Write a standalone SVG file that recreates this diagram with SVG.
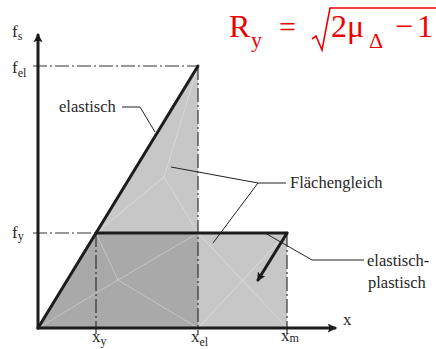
<svg xmlns="http://www.w3.org/2000/svg" width="436" height="349" viewBox="0 0 436 349">
  <style>
    text { font-family: "Liberation Serif", "DejaVu Serif", serif; }
    .lbl { fill: #262626; }
    .t { font-size: 16.5px; }
    .ax { font-size: 17px; }
    .sub { font-size: 12px; }
    .f { fill: #ee0000; }
    .thick { stroke: #1c1c1c; stroke-width: 3; fill: none; stroke-linecap: round; }
    .dd { stroke: #333; stroke-width: 1.2; fill: none; stroke-dasharray: 14 3 2 3; }
    .lead { stroke: #222; stroke-width: 1; fill: none; }
    .facet { stroke: #ffffff; stroke-width: 0.6; opacity: 0.55; fill: none; }
  </style>
  <defs>
    <marker id="ah" viewBox="0 0 10 10" refX="8" refY="5" markerWidth="9" markerHeight="9" markerUnits="userSpaceOnUse" orient="auto">
      <path d="M0,0 L10,5 L0,10 L2,5 z" fill="#1c1c1c"/>
    </marker>
  </defs>
  <rect width="436" height="349" fill="#ffffff"/>

  <g id="regions">
    <polygon points="38,328 198,66 198,328" fill="#c7c7c7"/>
    <polygon points="198,233 287,233 287,328 198,328" fill="#c7c7c7"/>
    <polygon points="38,328 96,233 198,233 198,328" fill="#a9a9a9"/>
  </g>
  <g id="facets">
    <path class="facet" d="M164,177 L96,233 M164,177 L198,66 M164,177 L198,233"/>
    <path class="facet" d="M198,233 L287,328 M198,328 L287,233"/>
    <path class="facet" d="M118,280 L38,328 M118,280 L96,233 M118,280 L198,233 M118,280 L198,328"/>
  </g>

  <g id="guides">
    <line class="dd" x1="33" y1="66" x2="198" y2="66"/>
    <line class="dd" x1="198" y1="66" x2="198" y2="334"/>
    <line class="dd" x1="33" y1="233" x2="96" y2="233"/>
    <line class="dd" x1="96" y1="233" x2="96" y2="334"/>
    <line class="dd" x1="287" y1="233" x2="287" y2="334"/>
  </g>

  <g id="axes">
    <line class="thick" x1="38" y1="328" x2="38" y2="35" marker-end="url(#ah)"/>
    <line class="thick" x1="38" y1="328" x2="335" y2="328" marker-end="url(#ah)"/>
  </g>

  <g id="curves">
    <line id="elastic-line" class="thick" x1="38" y1="328" x2="198" y2="66"/>
    <line id="plastic-line" class="thick" x1="96" y1="233" x2="287" y2="233"/>
    <line id="arrow" class="thick" x1="287" y1="233" x2="258" y2="280" marker-end="url(#ah)"/>
  </g>

  <g id="connectors">
    <polyline class="lead" points="122,107 140,107 155,132"/>
    <polyline class="lead" points="171,167 258,183 286,183"/>
    <line class="lead" x1="258" y1="183" x2="213" y2="243"/>
    <polyline class="lead" points="265,233 312,260 364,260"/>
  </g>

  <g id="label-elastisch" font-family="'Liberation Serif', serif"><text class="lbl t" x="59" y="112">elastisch</text></g>
  <g id="label-flaechengleich" font-family="'Liberation Serif', serif"><text class="lbl t" x="290" y="188">Flächengleich</text></g>
  <g id="label-elastisch-plastisch" font-family="'Liberation Serif', serif">
    <text class="lbl t" x="367" y="266">elastisch-</text>
    <text class="lbl t" x="368" y="288">plastisch</text>
  </g>

  <g id="axis-labels" font-family="'Liberation Serif', serif">
    <text class="lbl ax" x="12" y="37">f<tspan class="sub" dy="3">s</tspan></text>
    <text class="lbl ax" x="12" y="73">f<tspan class="sub" dy="4">el</tspan></text>
    <text class="lbl ax" x="12" y="238">f<tspan class="sub" dy="2">y</tspan></text>
    <text class="lbl ax" x="92" y="342">x<tspan class="sub" dy="3">y</tspan></text>
    <text class="lbl ax" x="191" y="342">x<tspan class="sub" dy="4">el</tspan></text>
    <text class="lbl ax" x="281" y="341">x<tspan class="sub" dy="1">m</tspan></text>
    <text class="lbl ax" x="343" y="325">x</text>
  </g>

  <g id="formula" font-family="'Liberation Serif', serif">
    <text class="f" x="229" y="37" font-size="32">R</text>
    <text class="f" x="251" y="47" font-size="22">y</text>
    <text class="f" x="279" y="37" font-size="30">=</text>
    <path d="M312,39 L316,36 L322,50 L330,8 L436,8" fill="none" stroke="#ee0000" stroke-width="1.6"/>
    <text class="f" x="331" y="37" font-size="32">2</text>
    <text class="f" x="347" y="37" font-size="32">μ</text>
    <text class="f" x="369" y="48" font-size="22">Δ</text>
    <text class="f" x="395" y="37" font-size="32">−</text>
    <text class="f" x="417" y="37" font-size="32">1</text>
  </g>
</svg>
